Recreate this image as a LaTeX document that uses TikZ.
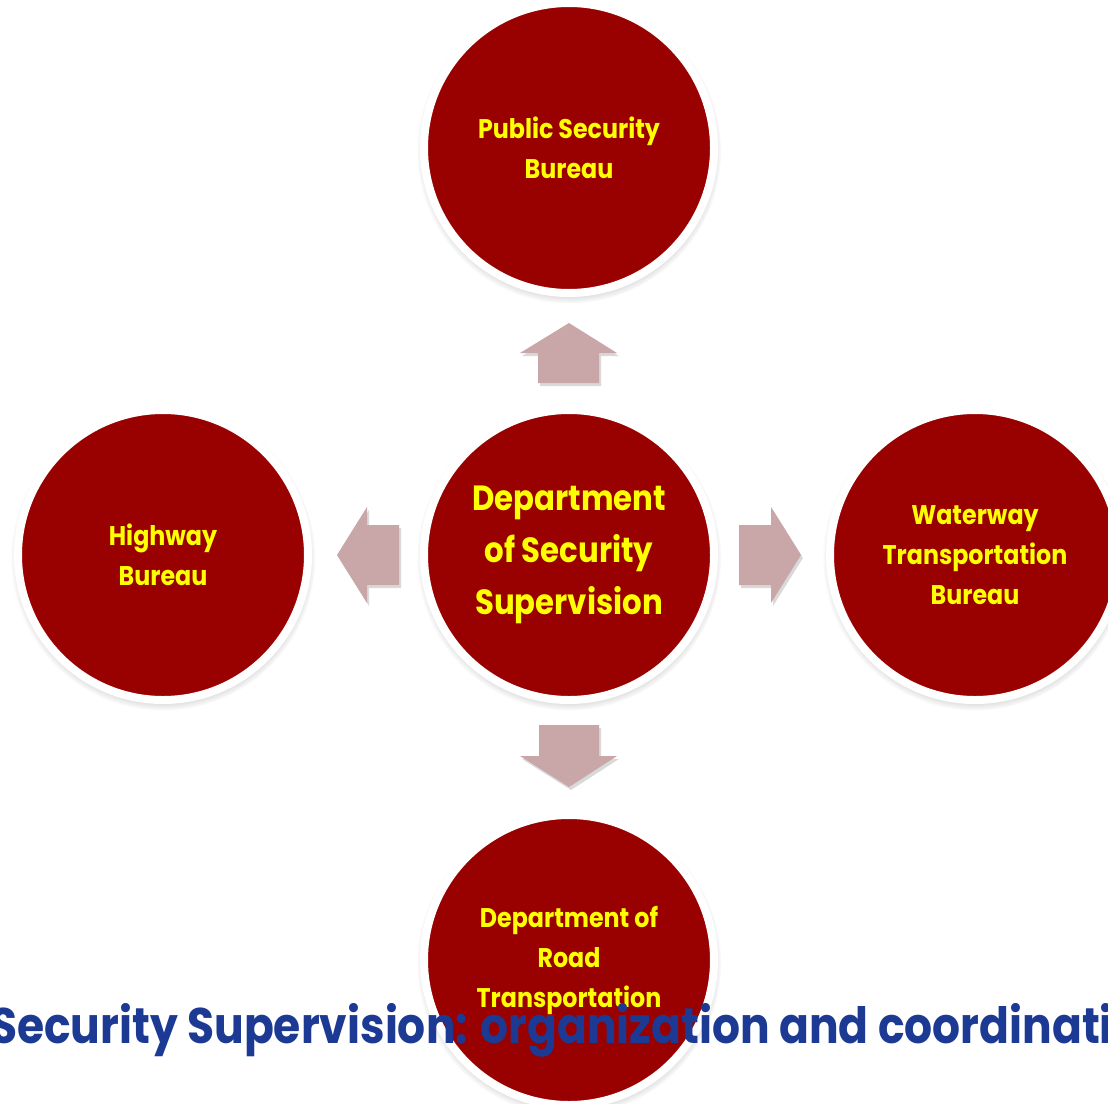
\documentclass[tikz,border=0pt]{standalone}
\usepackage{fontspec}
\newfontfamily\circfont{Poppins}[FakeStretch=0.88]
\usetikzlibrary{shadows}
\definecolor{bureaured}{HTML}{990000}
\definecolor{arrowpink}{HTML}{C9A7A9}
\definecolor{titleblue}{HTML}{1C3A94}
\definecolor{labelyellow}{HTML}{FFFF00}

\begin{document}
\begin{tikzpicture}
[every node/.style={inner sep=0pt},
 bureau/.style={circle, minimum size=290pt, fill=bureaured, line width=8pt, draw=white,
   circular drop shadow={shadow xshift=0pt, shadow yshift=-3pt, shadow scale=1.05, opacity=0.6, fill=black!60},
   align=center, text=labelyellow, font=\circfont\bfseries\fontsize{27}{40}\selectfont},
 blockarrow/.style={fill=arrowpink, drop shadow={shadow xshift=2pt, shadow yshift=-3pt, opacity=0.3}}]
\useasboundingbox (0pt, 0pt) rectangle (1108pt, -1103pt);
\clip (0pt, 0pt) rectangle (1108pt, -1103pt);
% the five circles
\node (dept) [bureau, font=\circfont\bfseries\fontsize{35}{52}\selectfont] at (569pt, -555pt) {Department\\of Security\\Supervision};
\node (psb) [bureau] at (569pt, -148pt) {Public Security\\Bureau};
\node (hwy) [bureau] at (163pt, -555pt) {Highway\\Bureau};
\node (wtb) [bureau] at (975pt, -555pt) {Waterway\\Transportation\\Bureau};
\node (drt) [bureau] at (569pt, -960pt) {Department of\\Road\\Transportation};
% block arrows from the department
\fill [blockarrow] (538pt, -383pt) -- (538pt, -353pt) -- (520pt, -353pt) -- (569pt, -323pt) -- (617pt, -353pt) -- (599pt, -353pt) -- (599pt, -383pt) -- cycle;
\fill [blockarrow] (539pt, -725pt) -- (539pt, -756pt) -- (520pt, -756pt) -- (569pt, -787pt) -- (617pt, -756pt) -- (599pt, -756pt) -- (599pt, -725pt) -- cycle;
\fill [blockarrow] (399pt, -525pt) -- (367pt, -525pt) -- (367pt, -507pt) -- (337pt, -555pt) -- (367pt, -603pt) -- (367pt, -585pt) -- (399pt, -585pt) -- cycle;
\fill [blockarrow] (739pt, -525pt) -- (771pt, -525pt) -- (771pt, -507pt) -- (801pt, -555pt) -- (771pt, -603pt) -- (771pt, -585pt) -- (739pt, -585pt) -- cycle;
% title line over the bottom circle
\node (title) [anchor=base west, text=titleblue, font=\circfont\bfseries\fontsize{50}{60}\selectfont] at (-10pt, -1043pt) {Security Supervision: organization and coordinati};
\end{tikzpicture}
\end{document}
